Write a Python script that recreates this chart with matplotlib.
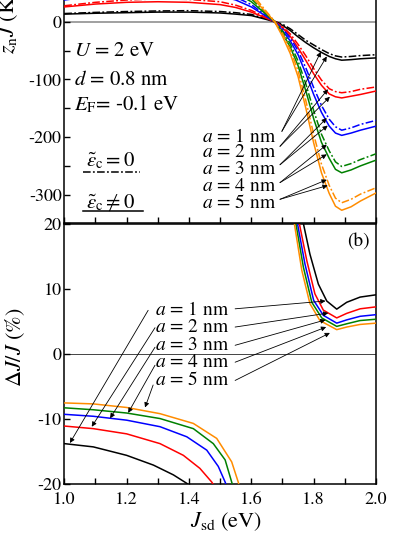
import matplotlib
matplotlib.use("Agg")
import matplotlib.pyplot as plt
from matplotlib.ticker import MultipleLocator, NullFormatter

plt.rcParams['font.family'] = 'STIXGeneral'
plt.rcParams['mathtext.fontset'] = 'stix'
plt.rcParams['axes.unicode_minus'] = False

# ---- data ----
a_values = [1, 2, 3, 4, 5]
colors = ['black', '#ff0000', '#0000ff', '#008000', '#ff8c00']

# top panel: z_n J (K) vs J_sd
J_top = [1.0, 1.1, 1.2, 1.3, 1.4, 1.5, 1.55, 1.6, 1.65, 1.675, 1.7, 1.725,
         1.75, 1.775, 1.8, 1.825, 1.85, 1.87, 1.89, 1.92, 1.95, 2.0]
zJ_solid = [
    [13.5, 15, 16, 17, 17, 15.5, 13.5, 11, 4, 0, -6, -15, -26, -36, -45, -53, -60, -64, -66.5, -65.5, -64, -62.5],
    [26, 31, 34, 35, 34, 30, 25, 17, 6, 0, -10, -25, -45, -67, -90, -110, -125, -130, -132, -129, -126, -120],
    [38, 45, 50, 52, 51, 45, 38, 26, 9, 0, -15, -33, -57, -90, -126, -157, -181, -193, -197, -193, -188, -181],
    [50, 59, 66, 69, 68, 60, 50, 35, 12, 0, -20, -44, -76, -120, -168, -209, -237, -256, -262, -257, -250, -240],
    [63, 74, 82, 86, 85, 75, 63, 44, 15, 0, -25, -55, -95, -150, -210, -262, -298, -320, -327, -321, -311, -297],
]
zJ_dash = [
    [14.5, 16.5, 18, 19, 19.5, 18, 16, 13, 5, 1, -4, -12, -22, -32, -40, -48, -55, -59, -61, -60, -58.5, -57],
    [28, 34, 38, 40, 39, 35, 29, 20, 7, 1, -8, -21, -39, -59, -81, -101, -116, -121, -123, -121, -117, -113],
    [41, 49, 55, 58, 57, 51, 43, 30, 10, 1, -12, -28, -50, -80, -114, -145, -169, -182, -188, -184, -178, -171],
    [54, 64, 72, 76, 75, 67, 57, 40, 14, 1, -16, -38, -68, -108, -154, -195, -224, -243, -251, -246, -239, -229],
    [68, 80, 90, 95, 94, 84, 71, 50, 17, 1, -20, -48, -85, -137, -195, -247, -284, -306, -314, -308, -299, -288],
]

# bottom panel: dJ/J (%) -- left branch (below the divergence) and right branch
J_left = [
    [1.0, 1.093, 1.2, 1.286, 1.35, 1.393, 1.42],
    [1.0, 1.093, 1.2, 1.307, 1.382, 1.435, 1.473, 1.49],
    [1.0, 1.093, 1.2, 1.307, 1.393, 1.457, 1.494, 1.516, 1.525],
    [1.0, 1.093, 1.2, 1.307, 1.414, 1.478, 1.516, 1.537, 1.545],
    [1.0, 1.093, 1.2, 1.307, 1.414, 1.489, 1.537, 1.558, 1.565],
]
dJ_left = [
    [-13.8, -14.3, -15.6, -17.1, -18.6, -19.9, -21],
    [-11.1, -11.5, -12.3, -13.8, -15.6, -17.6, -19.7, -21],
    [-9.3, -9.6, -10.2, -11.2, -12.75, -14.8, -17.3, -19.7, -21],
    [-8.3, -8.6, -9.1, -9.95, -11.5, -13.8, -16.3, -19.7, -21],
    [-7.55, -7.7, -8.25, -9.2, -10.7, -13.0, -16.6, -19.7, -21],
]
J_right = [
    [1.76, 1.767, 1.788, 1.815, 1.842, 1.874, 1.906, 1.949, 2.0],
    [1.748, 1.754, 1.778, 1.804, 1.831, 1.874, 1.906, 1.949, 2.0],
    [1.742, 1.748, 1.772, 1.8, 1.831, 1.874, 1.906, 1.949, 2.0],
    [1.737, 1.743, 1.767, 1.794, 1.826, 1.874, 1.906, 1.949, 2.0],
    [1.732, 1.738, 1.762, 1.788, 1.82, 1.874, 1.906, 1.949, 2.0],
]
dJ_right = [
    [22, 20, 15.3, 10.7, 8.1, 6.85, 7.9, 8.7, 9.05],
    [22, 20, 14.3, 9.2, 6.7, 5.5, 6.2, 6.9, 7.2],
    [22, 20, 13.8, 8.2, 5.9, 4.7, 5.2, 5.75, 6.0],
    [22, 20, 13.3, 7.9, 5.5, 4.2, 4.6, 5.1, 5.3],
    [22, 20, 12.8, 7.7, 5.1, 3.7, 4.1, 4.5, 4.7],
]

# annotation anchor points (data coords)
top_label_y = [-199, -227, -256, -286, -314]
top_arrow_start = [(1.698, -190), (1.692, -216), (1.692, -248), (1.692, -279), (1.692, -308)]
top_arrow_dash = [(1.823, -52), (1.846, -117), (1.842, -167), (1.842, -213), (1.842, -274)]
top_arrow_solid = [(1.842, -60), (1.852, -130), (1.845, -180), (1.842, -230), (1.845, -284)]

bot_label_y = [6.67, 4.0, 1.3, -1.4, -4.1]
bot_left_start = [(1.269, 6.67), (1.291, 4.0), (1.291, 1.0), (1.291, -1.76), (1.285, -4.8)]
bot_left_tip = [(1.018, -13.7), (1.088, -11.2), (1.147, -9.9), (1.205, -9.07), (1.259, -8.25)]
bot_right_start = [(1.548, 6.9), (1.548, 4.1), (1.548, 1.3), (1.548, -1.3), (1.548, -4.1)]
bot_right_tip = [(1.838, 8.1), (1.847, 6.25), (1.838, 5.2), (1.84, 4.1), (1.852, 3.2)]

# ---- figure ----
W, H = 415, 537
fig = plt.figure(figsize=(W / 100, H / 100), dpi=100)


def px_rect(x0, x1, ytop, ybot):
    return [x0 / W, 1 - ybot / H, (x1 - x0) / W, (ybot - ytop) / H]


ax1 = fig.add_axes(px_rect(64.3, 376, -35.7, 223.5))
ax2 = fig.add_axes(px_rect(64.3, 376, 223.5, 484))

arrow_kw = dict(arrowstyle='-|>', lw=0.6, color='k', mutation_scale=7,
                shrinkA=0, shrinkB=0)
dashdot = (0, (5, 1.5, 1.2, 1.5))

# top panel
ax1.axhline(0, color='#999999', lw=1.3, zorder=1)
for i, c in enumerate(colors):
    ax1.plot(J_top, zJ_dash[i], color=c, lw=1.1, linestyle=dashdot, zorder=3)
    ax1.plot(J_top, zJ_solid[i], color=c, lw=1.1, zorder=3)

for i, a in enumerate(a_values):
    ax1.text(1.441, top_label_y[i], r'$a$ = %d nm' % a, fontsize=14,
             ha='left', va='center')
    ax1.annotate('', xy=top_arrow_dash[i], xytext=top_arrow_start[i], arrowprops=arrow_kw)
    ax1.annotate('', xy=top_arrow_solid[i], xytext=top_arrow_start[i], arrowprops=arrow_kw)

ax1.text(1.03, -59, r'$U$ = 2 eV', fontsize=15, va='baseline')
ax1.text(1.03, -109, r'$d$ = 0.8 nm', fontsize=15, va='baseline')
ax1.text(1.03, -154, r'$E_{\rm F}$= -0.1 eV', fontsize=15, va='baseline')

ax1.text(1.07, -251, r'$\tilde{\epsilon}_{\rm c} = 0$', fontsize=15, va='baseline')
ax1.plot([1.06, 1.243], [-260, -260], color='k', lw=1.1, linestyle=dashdot)
ax1.text(1.07, -322, r'$\tilde{\epsilon}_{\rm c} \neq 0$', fontsize=15, va='baseline')
ax1.plot([1.06, 1.253], [-329, -329], color='k', lw=1.1)

ax1.set_xlim(1.0, 2.0)
ax1.set_ylim(-350, 100)
ax1.yaxis.set_major_locator(MultipleLocator(100))
ax1.yaxis.set_minor_locator(MultipleLocator(50))
ax1.xaxis.set_major_locator(MultipleLocator(0.2))
ax1.xaxis.set_minor_locator(MultipleLocator(0.1))
ax1.xaxis.set_major_formatter(NullFormatter())
ax1.set_ylabel(r'$z_{\rm n}J$ (K)', fontsize=16)
ax1.yaxis.set_label_coords(-0.142, 0.778)

# bottom panel
ax2.axhline(0, color='#444444', lw=0.7, zorder=1)
for i, c in enumerate(colors):
    ax2.plot(J_left[i], dJ_left[i], color=c, lw=1.1, zorder=3)
    ax2.plot(J_right[i], dJ_right[i], color=c, lw=1.1, zorder=3)

for i, a in enumerate(a_values):
    ax2.text(1.291, bot_label_y[i], r'$a$ = %d nm' % a, fontsize=14,
             ha='left', va='center')
    ax2.annotate('', xy=bot_left_tip[i], xytext=bot_left_start[i], arrowprops=arrow_kw)
    ax2.annotate('', xy=bot_right_tip[i], xytext=bot_right_start[i], arrowprops=arrow_kw)

ax2.text(0.98, 0.928, '(b)', transform=ax2.transAxes, fontsize=14,
         ha='right', va='center')

ax2.set_xlim(1.0, 2.0)
ax2.set_ylim(-20, 20)
ax2.yaxis.set_major_locator(MultipleLocator(10))
ax2.xaxis.set_major_locator(MultipleLocator(0.2))
ax2.xaxis.set_minor_locator(MultipleLocator(0.1))
ax2.xaxis.set_major_formatter(plt.FormatStrFormatter('%.1f'))
ax2.set_xlabel(r'$J_{\rm sd}$ (eV)', fontsize=16)
ax2.xaxis.set_label_coords(0.52, -0.1)
ax2.set_ylabel(r'$\Delta J/J$ (%)', fontsize=16)
ax2.yaxis.set_label_coords(-0.12, 0.527)

for ax in (ax1, ax2):
    ax.tick_params(which='both', direction='in', length=4, width=1,
                   labelsize=13, top=False, right=False, pad=2)
    for s in ax.spines.values():
        s.set_linewidth(1.1)
ax2.tick_params(axis='x', which='both', pad=6)

fig.savefig('out.png', dpi=100)
